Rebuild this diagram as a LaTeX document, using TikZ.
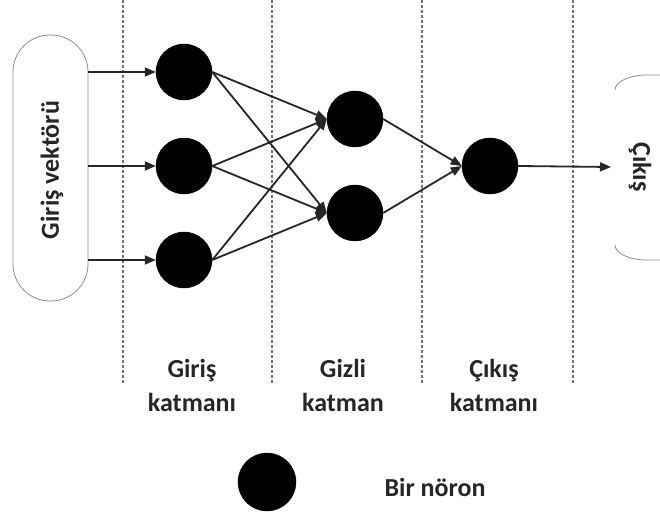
\documentclass[tikz,border=0pt]{standalone}
\usepackage{fontspec}
\setmainfont{Carlito}
\usetikzlibrary{arrows.meta}
\begin{document}
\begin{tikzpicture}[x=1pt,y=-1pt,
  neuron/.style={circle,fill=black,draw=black,minimum size=56pt,inner sep=0pt},
  divider/.style={draw=black!55,dash pattern=on 3pt off 2pt,line width=1.6pt},
  link/.style={draw=black!85,line width=1.8pt,-{Triangle[length=11pt,width=9pt]}},
  lbl/.style={font=\bfseries\fontsize{26}{34}\selectfont,text=black!85,align=center}]
\useasboundingbox (0,0) rectangle (660,513);

% layer dividers
\foreach \x in {123,272,422,573}
  \draw[divider] (\x,0) -- (\x,383);

% input vector box
\node (vec) [draw=black!45,line width=0.8pt,rounded corners=37pt,minimum width=75pt,minimum height=266pt,inner sep=0pt] at (50.5,168) {};
\node[lbl,rotate=90] at (52,170) {Giriş vektörü};

% neurons
\node (i1) [neuron] at (184,72) {};
\node (i2) [neuron] at (184,166) {};
\node (i3) [neuron] at (184,260) {};
\node (h1) [neuron] at (355,119) {};
\node (h2) [neuron] at (355,213) {};
\node (o1) [neuron] at (490,166) {};

% output bracket
\draw[draw=black!45,line width=0.8pt] (615,90) arc[start angle=180,end angle=270,x radius=32,y radius=15] -- (660,75);
\draw[draw=black!45,line width=0.8pt] (615,245) arc[start angle=180,end angle=90,x radius=32,y radius=15] -- (660,260);
\node[lbl,rotate=-90] at (640,167) {Çıkış};
\coordinate (out) at (611,167);

% connections
\foreach \n in {i1,i2,i3}
  \draw[link] (vec.east |- \n) -- (\n.west);
\foreach \a in {i1,i2,i3}
  \foreach \b in {h1,h2}
    \draw[link] (\a.east) -- (\b.west);
\foreach \b in {h1,h2}
  \draw[link] (\b.east) -- (o1.west);
\draw[link] (o1.east) -- (out);

% layer labels
\node[lbl] at (192,385) {Giriş\\katmanı};
\node[lbl] at (343,385) {Gizli\\katman};
\node[lbl] at (494,385) {Çıkış\\katmanı};

% legend
\node (leg) [neuron,minimum size=58pt] at (267,482) {};
\node[lbl] at (435,487) {Bir nöron};
\end{tikzpicture}
\end{document}
